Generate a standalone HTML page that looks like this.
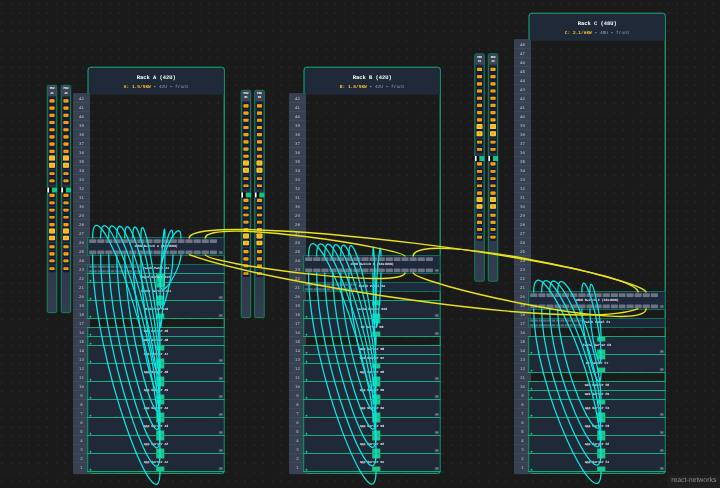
<!DOCTYPE html>
<html><head><meta charset="utf-8"><title>Rack elevation</title><style>
html,body{margin:0;padding:0}
body{text-rendering:geometricPrecision;-webkit-font-smoothing:antialiased;width:720px;height:488px;overflow:hidden;background:#1a1a1a;position:relative;font-family:"Liberation Mono",monospace}
#bg{position:absolute;left:0;top:0;width:720px;height:488px;background-image:radial-gradient(circle,#3a3a3a 0.55px,rgba(58,58,58,0) 1px);background-size:9px 9px;background-position:-2.3px -0.4px}
#vp{position:absolute;left:0;top:0;width:0;height:0;transform:translate(87.8px,67.4px) scale(0.45);transform-origin:0 0}
#vp div,#vp i,#vp span{position:absolute;box-sizing:border-box;display:block}
.rack{width:304px;border:2px solid #14c48d;box-shadow:0 0 0 0.5px rgba(20,196,141,.8);border-radius:7px}
.rh{left:0;top:0;width:300px;height:60px;background:#1f2937;border-radius:5px 5px 0 0}
.rt{left:0;width:300px;top:13.5px;text-align:center;color:#fff;font-weight:bold;font-size:12px;line-height:14px;white-space:pre}
.rs{left:0;width:300px;top:38px;text-align:center;color:#9aa2af;font-size:10px;line-height:12px;white-space:pre}
.rs b{color:#fbbf24}
.ruler{width:38px;background:#374151;border-radius:4px}
#vp .ruler .u{position:static;height:20px;border-top:1px solid #4a5466;color:#c6ccd6;font-size:9px;line-height:24.6px;text-align:center;overflow:hidden}
.dev{width:306px;background:#1f2937;border:0 solid #0f8a64;border-width:0 2px 0 3px}
.dev:before,.dev:after{content:"";position:absolute;left:-3px;right:-2px;height:2px;background:#10b981}
.dev:before{top:-1px}.dev:after{bottom:-1px}
.dev.sw:before,.dev.sw:after,.dev.pp:before,.dev.pp:after{background:#0e795a}
.dev.sw,.dev.pp{border-color:#0f7d5b;background:#1e293b}
.dl{left:0;width:100%;text-align:center;color:#f4f6f8;font-weight:bold;font-size:7.2px;letter-spacing:-0.12px;line-height:8px;top:50%;margin-top:-4.1px;white-space:pre}
.tu{right:2px;bottom:3px;width:9px;height:7px;background:#4b5563;color:#b6bcc6;font-size:4.5px;line-height:7px;text-align:center;border-radius:1px}
.pr{left:0;width:100%;height:8px}.pr.t{top:4px}.pr.b{bottom:3.5px}
.pr i{top:0;width:15.9px;height:8px;background:#6d7382;border-radius:1px}
.qr{left:0;width:120px;height:5px}.qr.t{top:2px}.qr.b{bottom:2px}
.qr i{top:0;width:8.6px;height:5px;background:#5d6473;border-radius:1px}
.ht,.hbm{left:150.5px;width:18px;height:10px;background:#1fc48b}
.ht{top:1px}.hbm{bottom:1px}
.led{left:2.5px;bottom:2.2px;width:4px;height:4px;border-radius:2px;background:#19d18f}
.pdu{width:23px;height:507px;background:linear-gradient(#1f2937,#323d50);border:2px solid #12966e;border-radius:4px}
.ph{left:0;top:0;width:19px;height:22.5px;background:#3b4557;color:#fff;font-weight:bold;font-size:6.4px;letter-spacing:-0.3px;line-height:9px;text-align:center;padding-top:1.5px;border-radius:2px 2px 0 0}
.oc{left:2.5px;width:14px;height:15px;background:#121b31;border-radius:1.5px}
.os{left:4px;width:11px;height:6.6px;background:#f8a30e;border-radius:1.4px;box-shadow:inset 0 0 0 1px #f59e0b}
.ob{left:3px;width:13px;height:10.8px;background:#fbbf24;border-radius:2px;box-shadow:inset 0 0 0 1px #fcd34d}
.os:after,.ob:after{content:"";position:absolute;left:50%;top:50%;width:3px;height:1.6px;margin:-0.8px 0 0 -1.5px;background:#a86a08;opacity:.7}
.hb{left:-4.3px;top:226px;width:25.1px;height:10.7px;background:#000}
.hw{left:3.3px;top:0;width:4px;height:10.7px;background:#fff}
.hg{right:0;top:0;width:11.4px;height:10.7px;background:#14c38a}
svg{position:absolute;left:0;top:0;overflow:visible}
path{fill:none}
.c{stroke:#08e6e6;stroke-width:2.8}
.y{stroke:#e9e217;stroke-width:3.2}
#attr{position:absolute;right:0;bottom:0;width:52.5px;height:13px;background:#1f1f1f;border-radius:3px 0 0 0;color:#8f8f8f;font:6.9px/12px "Liberation Sans",sans-serif;text-align:center}
</style></head>
<body><div id="bg"></div><div id="vp">
<div class="pdu" style="left:-91.0px;top:39.0px"><div class="ph">PDU<br>A1</div><i class="oc" style="top:26.2px"></i><i class="os" style="top:30.4px"></i><i class="oc" style="top:42.2px"></i><i class="os" style="top:46.4px"></i><i class="oc" style="top:58.2px"></i><i class="os" style="top:62.4px"></i><i class="oc" style="top:74.2px"></i><i class="os" style="top:78.4px"></i><i class="oc" style="top:90.2px"></i><i class="os" style="top:94.4px"></i><i class="oc" style="top:106.2px"></i><i class="os" style="top:110.4px"></i><i class="oc" style="top:122.2px"></i><i class="os" style="top:126.4px"></i><i class="oc" style="top:138.2px"></i><i class="os" style="top:142.4px"></i><i class="oc" style="top:152.7px;height:16.5px"></i><i class="ob" style="top:155.3px"></i><i class="oc" style="top:168.2px;height:16.5px"></i><i class="ob" style="top:170.8px"></i><i class="oc" style="top:187.6px"></i><i class="os" style="top:191.8px"></i><i class="oc" style="top:203.6px"></i><i class="os" style="top:207.8px"></i><i class="oc" style="top:236.1px"></i><i class="os" style="top:240.3px"></i><i class="oc" style="top:252.7px"></i><i class="os" style="top:256.9px"></i><i class="oc" style="top:268.7px"></i><i class="os" style="top:272.9px"></i><i class="oc" style="top:284.5px"></i><i class="os" style="top:288.7px"></i><i class="oc" style="top:300.9px"></i><i class="os" style="top:305.1px"></i><i class="oc" style="top:314.6px;height:16.5px"></i><i class="ob" style="top:317.2px"></i><i class="oc" style="top:330.1px;height:16.5px"></i><i class="ob" style="top:332.7px"></i><i class="oc" style="top:349.8px"></i><i class="os" style="top:354.0px"></i><i class="oc" style="top:365.8px"></i><i class="os" style="top:370.0px"></i><i class="oc" style="top:381.6px"></i><i class="os" style="top:385.8px"></i><i class="oc" style="top:398.5px"></i><i class="os" style="top:402.7px"></i><div class="hb"><i class="hw"></i><i class="hg"></i></div></div>
<div class="pdu" style="left:-60.0px;top:39.0px"><div class="ph">PDU<br>A2</div><i class="oc" style="top:26.2px"></i><i class="os" style="top:30.4px"></i><i class="oc" style="top:42.2px"></i><i class="os" style="top:46.4px"></i><i class="oc" style="top:58.2px"></i><i class="os" style="top:62.4px"></i><i class="oc" style="top:74.2px"></i><i class="os" style="top:78.4px"></i><i class="oc" style="top:90.2px"></i><i class="os" style="top:94.4px"></i><i class="oc" style="top:106.2px"></i><i class="os" style="top:110.4px"></i><i class="oc" style="top:122.2px"></i><i class="os" style="top:126.4px"></i><i class="oc" style="top:138.2px"></i><i class="os" style="top:142.4px"></i><i class="oc" style="top:152.7px;height:16.5px"></i><i class="ob" style="top:155.3px"></i><i class="oc" style="top:168.2px;height:16.5px"></i><i class="ob" style="top:170.8px"></i><i class="oc" style="top:187.6px"></i><i class="os" style="top:191.8px"></i><i class="oc" style="top:203.6px"></i><i class="os" style="top:207.8px"></i><i class="oc" style="top:236.1px"></i><i class="os" style="top:240.3px"></i><i class="oc" style="top:252.7px"></i><i class="os" style="top:256.9px"></i><i class="oc" style="top:268.7px"></i><i class="os" style="top:272.9px"></i><i class="oc" style="top:284.5px"></i><i class="os" style="top:288.7px"></i><i class="oc" style="top:300.9px"></i><i class="os" style="top:305.1px"></i><i class="oc" style="top:314.6px;height:16.5px"></i><i class="ob" style="top:317.2px"></i><i class="oc" style="top:330.1px;height:16.5px"></i><i class="ob" style="top:332.7px"></i><i class="oc" style="top:349.8px"></i><i class="os" style="top:354.0px"></i><i class="oc" style="top:365.8px"></i><i class="os" style="top:370.0px"></i><i class="oc" style="top:381.6px"></i><i class="os" style="top:385.8px"></i><i class="oc" style="top:398.5px"></i><i class="os" style="top:402.7px"></i><div class="hb"><i class="hw"></i><i class="hg"></i></div></div>
<div class="rack" style="left:0px;top:-1px;height:904px"><div class="rh"><div class="rt">Rack A (42U)</div><div class="rs"><b>A: 1.5/5KW</b> • 42U • front</div></div></div>
<div class="ruler" style="left:-33.0px;top:58.0px;height:846px"><div class="u">42</div><div class="u">41</div><div class="u">40</div><div class="u">39</div><div class="u">38</div><div class="u">37</div><div class="u">36</div><div class="u">35</div><div class="u">34</div><div class="u">33</div><div class="u">32</div><div class="u">31</div><div class="u">30</div><div class="u">29</div><div class="u">28</div><div class="u">27</div><div class="u">26</div><div class="u">25</div><div class="u">24</div><div class="u">23</div><div class="u">22</div><div class="u">21</div><div class="u">20</div><div class="u">19</div><div class="u">18</div><div class="u">17</div><div class="u">16</div><div class="u">15</div><div class="u">14</div><div class="u">13</div><div class="u">12</div><div class="u">11</div><div class="u">10</div><div class="u">9</div><div class="u">8</div><div class="u">7</div><div class="u">6</div><div class="u">5</div><div class="u">4</div><div class="u">3</div><div class="u">2</div><div class="u">1</div></div>
<div class="dev sw" style="left:-2px;top:378px;height:40px"><div class="pr t"><i style="left:2.00px"></i><i style="left:19.87px"></i><i style="left:37.74px"></i><i style="left:55.61px"></i><i style="left:73.48px"></i><i style="left:91.35px"></i><i style="left:109.22px"></i><i style="left:127.09px"></i><i style="left:144.96px"></i><i style="left:162.83px"></i><i style="left:180.70px"></i><i style="left:198.57px"></i><i style="left:216.44px"></i><i style="left:234.31px"></i><i style="left:252.18px"></i><i style="left:270.05px"></i></div><div class="pr b"><i style="left:2.00px"></i><i style="left:19.87px"></i><i style="left:37.74px"></i><i style="left:55.61px"></i><i style="left:73.48px"></i><i style="left:91.35px"></i><i style="left:109.22px"></i><i style="left:127.09px"></i><i style="left:144.96px"></i><i style="left:162.83px"></i><i style="left:180.70px"></i><i style="left:198.57px"></i><i style="left:216.44px"></i><i style="left:234.31px"></i><i style="left:252.18px"></i><i style="left:270.05px"></i></div><span class="dl">100G Switch A (32x100G)</span><span class="tu">2U</span></div>
<div class="dev pp" style="left:-2px;top:438px;height:20px"><div class="qr t"><i style="left:1.00px"></i><i style="left:10.75px"></i><i style="left:20.50px"></i><i style="left:30.25px"></i><i style="left:40.00px"></i><i style="left:49.75px"></i><i style="left:59.50px"></i><i style="left:69.25px"></i><i style="left:79.00px"></i><i style="left:88.75px"></i><i style="left:98.50px"></i><i style="left:108.25px"></i></div><div class="qr b"><i style="left:1.00px"></i><i style="left:10.75px"></i><i style="left:20.50px"></i><i style="left:30.25px"></i><i style="left:40.00px"></i><i style="left:49.75px"></i><i style="left:59.50px"></i><i style="left:69.25px"></i><i style="left:79.00px"></i><i style="left:88.75px"></i><i style="left:98.50px"></i><i style="left:108.25px"></i></div><span class="dl">Patch Panel A1</span></div>
<div class="dev sv" style="left:-2px;top:458px;height:20px"><i class="ht"></i><i class="hbm"></i><i class="led"></i><span class="dl">Mgmt Server A12</span></div>
<div class="dev sv" style="left:-2px;top:478px;height:40px"><i class="ht"></i><i class="hbm"></i><i class="led"></i><span class="dl">Cache Server A11</span><span class="tu">2U</span></div>
<div class="dev sv" style="left:-2px;top:518px;height:40px"><i class="ht"></i><i class="hbm"></i><i class="led"></i><span class="dl">DB Server A10</span><span class="tu">2U</span></div>
<div class="dev sv" style="left:-2px;top:578px;height:20px"><i class="led"></i><span class="dl">Web Server A9</span></div>
<div class="dev sv" style="left:-2px;top:598px;height:20px"><i class="led"></i><span class="dl">Web Server A8</span></div>
<div class="dev sv" style="left:-2px;top:618px;height:40px"><i class="ht"></i><i class="hbm"></i><i class="led"></i><span class="dl">App Server A7</span><span class="tu">2U</span></div>
<div class="dev sv" style="left:-2px;top:658px;height:40px"><i class="ht"></i><i class="hbm"></i><i class="led"></i><span class="dl">App Server A6</span><span class="tu">2U</span></div>
<div class="dev sv" style="left:-2px;top:698px;height:40px"><i class="ht"></i><i class="hbm"></i><i class="led"></i><span class="dl">App Server A5</span><span class="tu">2U</span></div>
<div class="dev sv" style="left:-2px;top:738px;height:40px"><i class="ht"></i><i class="hbm"></i><i class="led"></i><span class="dl">App Server A4</span><span class="tu">2U</span></div>
<div class="dev sv" style="left:-2px;top:778px;height:40px"><i class="ht"></i><i class="hbm"></i><i class="led"></i><span class="dl">App Server A3</span><span class="tu">2U</span></div>
<div class="dev sv" style="left:-2px;top:818px;height:40px"><i class="ht"></i><i class="hbm"></i><i class="led"></i><span class="dl">App Server A2</span><span class="tu">2U</span></div>
<div class="dev sv" style="left:-2px;top:858px;height:40px"><i class="ht"></i><i class="hbm"></i><i class="led"></i><span class="dl">App Server A1</span><span class="tu">2U</span></div>
<div class="pdu" style="left:340.0px;top:50.0px"><div class="ph">PDU<br>B1</div><i class="oc" style="top:26.2px"></i><i class="os" style="top:30.4px"></i><i class="oc" style="top:42.2px"></i><i class="os" style="top:46.4px"></i><i class="oc" style="top:58.2px"></i><i class="os" style="top:62.4px"></i><i class="oc" style="top:74.2px"></i><i class="os" style="top:78.4px"></i><i class="oc" style="top:90.2px"></i><i class="os" style="top:94.4px"></i><i class="oc" style="top:106.2px"></i><i class="os" style="top:110.4px"></i><i class="oc" style="top:122.2px"></i><i class="os" style="top:126.4px"></i><i class="oc" style="top:138.2px"></i><i class="os" style="top:142.4px"></i><i class="oc" style="top:152.7px;height:16.5px"></i><i class="ob" style="top:155.3px"></i><i class="oc" style="top:168.2px;height:16.5px"></i><i class="ob" style="top:170.8px"></i><i class="oc" style="top:187.6px"></i><i class="os" style="top:191.8px"></i><i class="oc" style="top:203.6px"></i><i class="os" style="top:207.8px"></i><i class="oc" style="top:236.1px"></i><i class="os" style="top:240.3px"></i><i class="oc" style="top:252.7px"></i><i class="os" style="top:256.9px"></i><i class="oc" style="top:268.7px"></i><i class="os" style="top:272.9px"></i><i class="oc" style="top:284.5px"></i><i class="os" style="top:288.7px"></i><i class="oc" style="top:300.9px"></i><i class="os" style="top:305.1px"></i><i class="oc" style="top:314.6px;height:16.5px"></i><i class="ob" style="top:317.2px"></i><i class="oc" style="top:330.1px;height:16.5px"></i><i class="ob" style="top:332.7px"></i><i class="oc" style="top:349.8px"></i><i class="os" style="top:354.0px"></i><i class="oc" style="top:365.8px"></i><i class="os" style="top:370.0px"></i><i class="oc" style="top:381.6px"></i><i class="os" style="top:385.8px"></i><i class="oc" style="top:398.5px"></i><i class="os" style="top:402.7px"></i><div class="hb"><i class="hw"></i><i class="hg"></i></div></div>
<div class="pdu" style="left:370.0px;top:50.0px"><div class="ph">PDU<br>B2</div><i class="oc" style="top:26.2px"></i><i class="os" style="top:30.4px"></i><i class="oc" style="top:42.2px"></i><i class="os" style="top:46.4px"></i><i class="oc" style="top:58.2px"></i><i class="os" style="top:62.4px"></i><i class="oc" style="top:74.2px"></i><i class="os" style="top:78.4px"></i><i class="oc" style="top:90.2px"></i><i class="os" style="top:94.4px"></i><i class="oc" style="top:106.2px"></i><i class="os" style="top:110.4px"></i><i class="oc" style="top:122.2px"></i><i class="os" style="top:126.4px"></i><i class="oc" style="top:138.2px"></i><i class="os" style="top:142.4px"></i><i class="oc" style="top:152.7px;height:16.5px"></i><i class="ob" style="top:155.3px"></i><i class="oc" style="top:168.2px;height:16.5px"></i><i class="ob" style="top:170.8px"></i><i class="oc" style="top:187.6px"></i><i class="os" style="top:191.8px"></i><i class="oc" style="top:203.6px"></i><i class="os" style="top:207.8px"></i><i class="oc" style="top:236.1px"></i><i class="os" style="top:240.3px"></i><i class="oc" style="top:252.7px"></i><i class="os" style="top:256.9px"></i><i class="oc" style="top:268.7px"></i><i class="os" style="top:272.9px"></i><i class="oc" style="top:284.5px"></i><i class="os" style="top:288.7px"></i><i class="oc" style="top:300.9px"></i><i class="os" style="top:305.1px"></i><i class="oc" style="top:314.6px;height:16.5px"></i><i class="ob" style="top:317.2px"></i><i class="oc" style="top:330.1px;height:16.5px"></i><i class="ob" style="top:332.7px"></i><i class="oc" style="top:349.8px"></i><i class="os" style="top:354.0px"></i><i class="oc" style="top:365.8px"></i><i class="os" style="top:370.0px"></i><i class="oc" style="top:381.6px"></i><i class="os" style="top:385.8px"></i><i class="oc" style="top:398.5px"></i><i class="os" style="top:402.7px"></i><div class="hb"><i class="hw"></i><i class="hg"></i></div></div>
<div class="rack" style="left:480px;top:-1px;height:904px"><div class="rh"><div class="rt">Rack B (42U)</div><div class="rs"><b>B: 1.8/5KW</b> • 42U • front</div></div></div>
<div class="ruler" style="left:447.0px;top:58.0px;height:846px"><div class="u">42</div><div class="u">41</div><div class="u">40</div><div class="u">39</div><div class="u">38</div><div class="u">37</div><div class="u">36</div><div class="u">35</div><div class="u">34</div><div class="u">33</div><div class="u">32</div><div class="u">31</div><div class="u">30</div><div class="u">29</div><div class="u">28</div><div class="u">27</div><div class="u">26</div><div class="u">25</div><div class="u">24</div><div class="u">23</div><div class="u">22</div><div class="u">21</div><div class="u">20</div><div class="u">19</div><div class="u">18</div><div class="u">17</div><div class="u">16</div><div class="u">15</div><div class="u">14</div><div class="u">13</div><div class="u">12</div><div class="u">11</div><div class="u">10</div><div class="u">9</div><div class="u">8</div><div class="u">7</div><div class="u">6</div><div class="u">5</div><div class="u">4</div><div class="u">3</div><div class="u">2</div><div class="u">1</div></div>
<div class="dev sw" style="left:478px;top:418px;height:40px"><div class="pr t"><i style="left:2.00px"></i><i style="left:19.87px"></i><i style="left:37.74px"></i><i style="left:55.61px"></i><i style="left:73.48px"></i><i style="left:91.35px"></i><i style="left:109.22px"></i><i style="left:127.09px"></i><i style="left:144.96px"></i><i style="left:162.83px"></i><i style="left:180.70px"></i><i style="left:198.57px"></i><i style="left:216.44px"></i><i style="left:234.31px"></i><i style="left:252.18px"></i><i style="left:270.05px"></i></div><div class="pr b"><i style="left:2.00px"></i><i style="left:19.87px"></i><i style="left:37.74px"></i><i style="left:55.61px"></i><i style="left:73.48px"></i><i style="left:91.35px"></i><i style="left:109.22px"></i><i style="left:127.09px"></i><i style="left:144.96px"></i><i style="left:162.83px"></i><i style="left:180.70px"></i><i style="left:198.57px"></i><i style="left:216.44px"></i><i style="left:234.31px"></i><i style="left:252.18px"></i><i style="left:270.05px"></i></div><span class="dl">100G Switch B (32x100G)</span><span class="tu">2U</span></div>
<div class="dev pp" style="left:478px;top:478px;height:20px"><div class="qr t"><i style="left:1.00px"></i><i style="left:10.75px"></i><i style="left:20.50px"></i><i style="left:30.25px"></i><i style="left:40.00px"></i><i style="left:49.75px"></i><i style="left:59.50px"></i><i style="left:69.25px"></i><i style="left:79.00px"></i><i style="left:88.75px"></i><i style="left:98.50px"></i><i style="left:108.25px"></i></div><div class="qr b"><i style="left:1.00px"></i><i style="left:10.75px"></i><i style="left:20.50px"></i><i style="left:30.25px"></i><i style="left:40.00px"></i><i style="left:49.75px"></i><i style="left:59.50px"></i><i style="left:69.25px"></i><i style="left:79.00px"></i><i style="left:88.75px"></i><i style="left:98.50px"></i><i style="left:108.25px"></i></div><span class="dl">Patch Panel B1</span></div>
<div class="dev sv" style="left:478px;top:518px;height:40px"><i class="ht"></i><i class="hbm"></i><i class="led"></i><span class="dl">Cache Server B10</span><span class="tu">2U</span></div>
<div class="dev sv" style="left:478px;top:558px;height:40px"><i class="ht"></i><i class="hbm"></i><i class="led"></i><span class="dl">DB Server B9</span><span class="tu">2U</span></div>
<div class="dev sv" style="left:478px;top:618px;height:20px"><i class="led"></i><span class="dl">Web Server B8</span></div>
<div class="dev sv" style="left:478px;top:638px;height:20px"><i class="led"></i><span class="dl">Web Server B7</span></div>
<div class="dev sv" style="left:478px;top:658px;height:40px"><i class="ht"></i><i class="hbm"></i><i class="led"></i><span class="dl">App Server B6</span><span class="tu">2U</span></div>
<div class="dev sv" style="left:478px;top:698px;height:40px"><i class="ht"></i><i class="hbm"></i><i class="led"></i><span class="dl">App Server B5</span><span class="tu">2U</span></div>
<div class="dev sv" style="left:478px;top:738px;height:40px"><i class="ht"></i><i class="hbm"></i><i class="led"></i><span class="dl">App Server B4</span><span class="tu">2U</span></div>
<div class="dev sv" style="left:478px;top:778px;height:40px"><i class="ht"></i><i class="hbm"></i><i class="led"></i><span class="dl">App Server B3</span><span class="tu">2U</span></div>
<div class="dev sv" style="left:478px;top:818px;height:40px"><i class="ht"></i><i class="hbm"></i><i class="led"></i><span class="dl">App Server B2</span><span class="tu">2U</span></div>
<div class="dev sv" style="left:478px;top:858px;height:40px"><i class="ht"></i><i class="hbm"></i><i class="led"></i><span class="dl">App Server B1</span><span class="tu">2U</span></div>
<div class="pdu" style="left:859.0px;top:-31.0px"><div class="ph">PDU<br>C1</div><i class="oc" style="top:26.2px"></i><i class="os" style="top:30.4px"></i><i class="oc" style="top:42.2px"></i><i class="os" style="top:46.4px"></i><i class="oc" style="top:58.2px"></i><i class="os" style="top:62.4px"></i><i class="oc" style="top:74.2px"></i><i class="os" style="top:78.4px"></i><i class="oc" style="top:90.2px"></i><i class="os" style="top:94.4px"></i><i class="oc" style="top:106.2px"></i><i class="os" style="top:110.4px"></i><i class="oc" style="top:122.2px"></i><i class="os" style="top:126.4px"></i><i class="oc" style="top:138.2px"></i><i class="os" style="top:142.4px"></i><i class="oc" style="top:152.7px;height:16.5px"></i><i class="ob" style="top:155.3px"></i><i class="oc" style="top:168.2px;height:16.5px"></i><i class="ob" style="top:170.8px"></i><i class="oc" style="top:187.6px"></i><i class="os" style="top:191.8px"></i><i class="oc" style="top:203.6px"></i><i class="os" style="top:207.8px"></i><i class="oc" style="top:236.1px"></i><i class="os" style="top:240.3px"></i><i class="oc" style="top:252.7px"></i><i class="os" style="top:256.9px"></i><i class="oc" style="top:268.7px"></i><i class="os" style="top:272.9px"></i><i class="oc" style="top:284.5px"></i><i class="os" style="top:288.7px"></i><i class="oc" style="top:300.9px"></i><i class="os" style="top:305.1px"></i><i class="oc" style="top:314.6px;height:16.5px"></i><i class="ob" style="top:317.2px"></i><i class="oc" style="top:330.1px;height:16.5px"></i><i class="ob" style="top:332.7px"></i><i class="oc" style="top:349.8px"></i><i class="os" style="top:354.0px"></i><i class="oc" style="top:365.8px"></i><i class="os" style="top:370.0px"></i><i class="oc" style="top:381.6px"></i><i class="os" style="top:385.8px"></i><i class="oc" style="top:398.5px"></i><i class="os" style="top:402.7px"></i><div class="hb"><i class="hw"></i><i class="hg"></i></div></div>
<div class="pdu" style="left:889.0px;top:-31.0px"><div class="ph">PDU<br>C2</div><i class="oc" style="top:26.2px"></i><i class="os" style="top:30.4px"></i><i class="oc" style="top:42.2px"></i><i class="os" style="top:46.4px"></i><i class="oc" style="top:58.2px"></i><i class="os" style="top:62.4px"></i><i class="oc" style="top:74.2px"></i><i class="os" style="top:78.4px"></i><i class="oc" style="top:90.2px"></i><i class="os" style="top:94.4px"></i><i class="oc" style="top:106.2px"></i><i class="os" style="top:110.4px"></i><i class="oc" style="top:122.2px"></i><i class="os" style="top:126.4px"></i><i class="oc" style="top:138.2px"></i><i class="os" style="top:142.4px"></i><i class="oc" style="top:152.7px;height:16.5px"></i><i class="ob" style="top:155.3px"></i><i class="oc" style="top:168.2px;height:16.5px"></i><i class="ob" style="top:170.8px"></i><i class="oc" style="top:187.6px"></i><i class="os" style="top:191.8px"></i><i class="oc" style="top:203.6px"></i><i class="os" style="top:207.8px"></i><i class="oc" style="top:236.1px"></i><i class="os" style="top:240.3px"></i><i class="oc" style="top:252.7px"></i><i class="os" style="top:256.9px"></i><i class="oc" style="top:268.7px"></i><i class="os" style="top:272.9px"></i><i class="oc" style="top:284.5px"></i><i class="os" style="top:288.7px"></i><i class="oc" style="top:300.9px"></i><i class="os" style="top:305.1px"></i><i class="oc" style="top:314.6px;height:16.5px"></i><i class="ob" style="top:317.2px"></i><i class="oc" style="top:330.1px;height:16.5px"></i><i class="ob" style="top:332.7px"></i><i class="oc" style="top:349.8px"></i><i class="os" style="top:354.0px"></i><i class="oc" style="top:365.8px"></i><i class="os" style="top:370.0px"></i><i class="oc" style="top:381.6px"></i><i class="os" style="top:385.8px"></i><i class="oc" style="top:398.5px"></i><i class="os" style="top:402.7px"></i><div class="hb"><i class="hw"></i><i class="hg"></i></div></div>
<div class="rack" style="left:980px;top:-121px;height:1024px"><div class="rh"><div class="rt">Rack C (48U)</div><div class="rs"><b>C: 2.1/6KW</b> • 48U • front</div></div></div>
<div class="ruler" style="left:947.0px;top:-62.0px;height:966px"><div class="u">48</div><div class="u">47</div><div class="u">46</div><div class="u">45</div><div class="u">44</div><div class="u">43</div><div class="u">42</div><div class="u">41</div><div class="u">40</div><div class="u">39</div><div class="u">38</div><div class="u">37</div><div class="u">36</div><div class="u">35</div><div class="u">34</div><div class="u">33</div><div class="u">32</div><div class="u">31</div><div class="u">30</div><div class="u">29</div><div class="u">28</div><div class="u">27</div><div class="u">26</div><div class="u">25</div><div class="u">24</div><div class="u">23</div><div class="u">22</div><div class="u">21</div><div class="u">20</div><div class="u">19</div><div class="u">18</div><div class="u">17</div><div class="u">16</div><div class="u">15</div><div class="u">14</div><div class="u">13</div><div class="u">12</div><div class="u">11</div><div class="u">10</div><div class="u">9</div><div class="u">8</div><div class="u">7</div><div class="u">6</div><div class="u">5</div><div class="u">4</div><div class="u">3</div><div class="u">2</div><div class="u">1</div></div>
<div class="dev sw" style="left:978px;top:498px;height:40px"><div class="pr t"><i style="left:2.00px"></i><i style="left:19.87px"></i><i style="left:37.74px"></i><i style="left:55.61px"></i><i style="left:73.48px"></i><i style="left:91.35px"></i><i style="left:109.22px"></i><i style="left:127.09px"></i><i style="left:144.96px"></i><i style="left:162.83px"></i><i style="left:180.70px"></i><i style="left:198.57px"></i><i style="left:216.44px"></i><i style="left:234.31px"></i><i style="left:252.18px"></i><i style="left:270.05px"></i></div><div class="pr b"><i style="left:2.00px"></i><i style="left:19.87px"></i><i style="left:37.74px"></i><i style="left:55.61px"></i><i style="left:73.48px"></i><i style="left:91.35px"></i><i style="left:109.22px"></i><i style="left:127.09px"></i><i style="left:144.96px"></i><i style="left:162.83px"></i><i style="left:180.70px"></i><i style="left:198.57px"></i><i style="left:216.44px"></i><i style="left:234.31px"></i><i style="left:252.18px"></i><i style="left:270.05px"></i></div><span class="dl">100G Switch C (32x100G)</span><span class="tu">2U</span></div>
<div class="dev pp" style="left:978px;top:558px;height:20px"><div class="qr t"><i style="left:1.00px"></i><i style="left:10.75px"></i><i style="left:20.50px"></i><i style="left:30.25px"></i><i style="left:40.00px"></i><i style="left:49.75px"></i><i style="left:59.50px"></i><i style="left:69.25px"></i><i style="left:79.00px"></i><i style="left:88.75px"></i><i style="left:98.50px"></i><i style="left:108.25px"></i></div><div class="qr b"><i style="left:1.00px"></i><i style="left:10.75px"></i><i style="left:20.50px"></i><i style="left:30.25px"></i><i style="left:40.00px"></i><i style="left:49.75px"></i><i style="left:59.50px"></i><i style="left:69.25px"></i><i style="left:79.00px"></i><i style="left:88.75px"></i><i style="left:98.50px"></i><i style="left:108.25px"></i></div><span class="dl">Patch Panel C1</span></div>
<div class="dev sv" style="left:978px;top:598px;height:40px"><i class="ht"></i><i class="hbm"></i><i class="led"></i><span class="dl">Cache Server C8</span><span class="tu">2U</span></div>
<div class="dev sv" style="left:978px;top:638px;height:40px"><i class="ht"></i><i class="hbm"></i><i class="led"></i><span class="dl">DB Server C7</span><span class="tu">2U</span></div>
<div class="dev sv" style="left:978px;top:698px;height:20px"><i class="led"></i><span class="dl">Web Server C6</span></div>
<div class="dev sv" style="left:978px;top:718px;height:20px"><i class="led"></i><span class="dl">Web Server C5</span></div>
<div class="dev sv" style="left:978px;top:738px;height:40px"><i class="ht"></i><i class="hbm"></i><i class="led"></i><span class="dl">App Server C4</span><span class="tu">2U</span></div>
<div class="dev sv" style="left:978px;top:778px;height:40px"><i class="ht"></i><i class="hbm"></i><i class="led"></i><span class="dl">App Server C3</span><span class="tu">2U</span></div>
<div class="dev sv" style="left:978px;top:818px;height:40px"><i class="ht"></i><i class="hbm"></i><i class="led"></i><span class="dl">App Server C2</span><span class="tu">2U</span></div>
<div class="dev sv" style="left:978px;top:858px;height:40px"><i class="ht"></i><i class="hbm"></i><i class="led"></i><span class="dl">App Server C1</span><span class="tu">2U</span></div>
<svg width="10" height="10"><path class="c" d="M10.6,380.0 C10.6,243.3 160.5,619.2 160.5,858.5"/><path class="c" d="M10.6,416.0 C10.6,656.8 160.5,1034.6 160.5,897.5"/><path class="c" d="M28.5,380.0 C28.5,249.1 160.5,599.2 160.5,818.5"/><path class="c" d="M28.5,416.0 C28.5,636.8 160.5,988.8 160.5,857.5"/><path class="c" d="M46.4,380.0 C46.4,255.2 160.5,579.2 160.5,778.5"/><path class="c" d="M46.4,416.0 C46.4,616.8 160.5,942.7 160.5,817.5"/><path class="c" d="M64.3,380.0 C64.3,261.7 160.5,559.2 160.5,738.5"/><path class="c" d="M64.3,416.0 C64.3,596.8 160.5,896.3 160.5,777.5"/><path class="c" d="M82.1,380.0 C82.1,268.5 160.5,539.2 160.5,698.5"/><path class="c" d="M82.1,416.0 C82.1,576.8 160.5,849.6 160.5,737.5"/><path class="c" d="M100.0,380.0 C100.0,275.7 160.5,519.2 160.5,658.5"/><path class="c" d="M100.0,416.0 C100.0,556.8 160.5,802.4 160.5,697.5"/><path class="c" d="M117.9,380.0 C117.9,283.5 160.5,499.2 160.5,618.5"/><path class="c" d="M117.9,416.0 C117.9,536.8 160.5,754.6 160.5,657.5"/><path class="c" d="M171.5,380.0 C171.5,306.4 160.5,449.2 160.5,518.5"/><path class="c" d="M171.5,416.0 C171.5,486.8 160.5,631.8 160.5,557.5"/><path class="c" d="M189.3,380.0 C189.3,318.0 160.5,429.2 160.5,478.5"/><path class="c" d="M189.3,416.0 C189.3,466.8 160.5,580.5 160.5,517.5"/><path class="c" d="M207.2,380.0 C207.2,324.6 160.5,419.2 160.5,458.5"/><path class="c" d="M207.2,416.0 C207.2,446.8 160.5,526.5 160.5,477.5"/><path class="c" d="M490.6,420.0 C490.6,289.1 640.5,639.2 640.5,858.5"/><path class="c" d="M490.6,456.0 C490.6,676.8 640.5,1028.8 640.5,897.5"/><path class="c" d="M508.5,420.0 C508.5,295.2 640.5,619.2 640.5,818.5"/><path class="c" d="M508.5,456.0 C508.5,656.8 640.5,982.7 640.5,857.5"/><path class="c" d="M526.4,420.0 C526.4,301.7 640.5,599.2 640.5,778.5"/><path class="c" d="M526.4,456.0 C526.4,636.8 640.5,936.3 640.5,817.5"/><path class="c" d="M544.3,420.0 C544.3,308.5 640.5,579.2 640.5,738.5"/><path class="c" d="M544.3,456.0 C544.3,616.8 640.5,889.6 640.5,777.5"/><path class="c" d="M562.1,420.0 C562.1,315.7 640.5,559.2 640.5,698.5"/><path class="c" d="M562.1,456.0 C562.1,596.8 640.5,842.4 640.5,737.5"/><path class="c" d="M580.0,420.0 C580.0,323.5 640.5,539.2 640.5,658.5"/><path class="c" d="M580.0,456.0 C580.0,576.8 640.5,794.6 640.5,697.5"/><path class="c" d="M633.6,420.0 C633.6,346.4 640.5,489.2 640.5,558.5"/><path class="c" d="M633.6,456.0 C633.6,526.8 640.5,671.8 640.5,597.5"/><path class="c" d="M651.5,420.0 C651.5,358.0 640.5,469.2 640.5,518.5"/><path class="c" d="M651.5,456.0 C651.5,506.8 640.5,620.5 640.5,557.5"/><path class="c" d="M990.7,500.0 C990.7,381.7 1140.5,679.2 1140.5,858.5"/><path class="c" d="M990.7,536.0 C990.7,716.8 1140.5,1016.3 1140.5,897.5"/><path class="c" d="M1008.5,500.0 C1008.5,388.5 1140.5,659.2 1140.5,818.5"/><path class="c" d="M1008.5,536.0 C1008.5,696.8 1140.5,969.6 1140.5,857.5"/><path class="c" d="M1026.4,500.0 C1026.4,395.7 1140.5,639.2 1140.5,778.5"/><path class="c" d="M1026.4,536.0 C1026.4,676.8 1140.5,922.4 1140.5,817.5"/><path class="c" d="M1044.3,500.0 C1044.3,403.5 1140.5,619.2 1140.5,738.5"/><path class="c" d="M1044.3,536.0 C1044.3,656.8 1140.5,874.6 1140.5,777.5"/><path class="c" d="M1097.9,500.0 C1097.9,426.4 1140.5,569.2 1140.5,638.5"/><path class="c" d="M1097.9,536.0 C1097.9,606.8 1140.5,751.8 1140.5,677.5"/><path class="c" d="M1115.7,500.0 C1115.7,438.0 1140.5,549.2 1140.5,598.5"/><path class="c" d="M1115.7,536.0 C1115.7,586.8 1140.5,700.5 1140.5,637.5"/><path class="y" d="M225.1,380.0 C225.1,312.4 1223.0,435.8 1223.0,500.0"/><path class="y" d="M225.1,416.0 C398.2,479.8 1091.2,588.9 1223.0,536.0"/><path class="y" d="M260.8,380.0 C260.8,332.7 705.1,402.9 705.1,420.0"/><path class="y" d="M260.8,416.0 C260.8,436.0 705.1,495.5 705.1,456.0"/><path class="y" d="M723.0,420.0 C723.0,358.4 1240.8,472.7 1240.8,500.0"/><path class="y" d="M723.0,456.0 C723.0,480.2 1240.8,597.1 1240.8,536.0"/></svg>
</div><div id="attr">react-networks</div></body></html>
